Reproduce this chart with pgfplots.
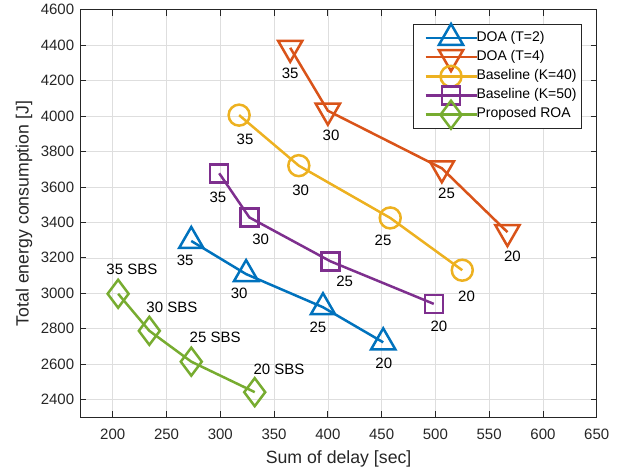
\documentclass[border=0pt]{standalone}
\usepackage{fontspec}
\setmainfont{Liberation Sans}
\usepackage{pgfplots}
\pgfplotsset{compat=1.18}
\definecolor{mblue}{rgb}{0,0.447,0.741}
\definecolor{morange}{rgb}{0.85,0.325,0.098}
\definecolor{myellow}{rgb}{0.929,0.694,0.125}
\definecolor{mpurple}{rgb}{0.494,0.184,0.556}
\definecolor{mgreen}{rgb}{0.466,0.674,0.188}
\definecolor{axgray}{rgb}{0.15,0.15,0.15}
\definecolor{gridgray}{rgb}{0.87,0.87,0.87}
\begin{document}
\begin{tikzpicture}
\begin{axis}[
  scale only axis, width=516.2pt, height=407.6pt,
  xmin=170, xmax=650, ymin=2300, ymax=4600,
  xtick={200,250,...,650}, ytick={2400,2600,...,4600},
  /pgf/number format/assume math mode=true,
  /pgf/number format/1000 sep={},
  tick label style={font=\fontsize{15}{18}\selectfont, text=axgray},
  xticklabel style={yshift=-7.7pt},
  yticklabel style={xshift=-2.8pt},
  label style={font=\fontsize{17.7}{21}\selectfont, text=axgray},
  xlabel={Sum of delay [sec]}, ylabel={Total energy consumption [J]},
  xlabel style={at={(axis description cs:0.5,-0.1011)}, anchor=center},
  ylabel style={at={(axis description cs:-0.1095,0.5)}, anchor=center},
  grid=major, major grid style={gridgray, line width=0.6pt},
  axis line style={axgray, line width=0.8pt},
  tick style={axgray, line width=0.8pt},
  major tick length=6pt, tick align=inside,
  legend style={
    at={(0.971,0.965)}, anchor=north east,
    draw=axgray, fill=white,
    font=\fontsize{14}{16}\selectfont,
    inner xsep=5pt, inner ysep=7pt,
    row sep=5.7pt, column sep=7pt,
    nodes={inner sep=0pt, fill=none, text height=10pt, text depth=3.5pt},
  },
  legend cell align=left,
  legend image code/.code={
    \path[draw=none, fill=none] (0pt,-2pt) rectangle (51pt,2pt);
    \draw[overlay, line width=2.5pt, mark=none] (7pt,0pt) -- (58pt,0pt);
    \draw[overlay, line width=2.5pt] plot[only marks] coordinates {(32.5pt,0pt)};
  },
]
\addplot[mblue, line width=2.5pt, mark=triangle, mark size=14pt, mark options={solid}]
  coordinates {(273,3295) (324,3108) (395.5,2921) (451.5,2723)};
\addlegendentry{DOA (T=2)}
\addplot[morange, line width=2.5pt, mark=triangle, mark size=14pt, mark options={solid, rotate=180}]
  coordinates {(365,4385) (400,4030) (506,3705) (567,3345)};
\addlegendentry{DOA (T=4)}
\addplot[myellow, line width=2.5pt, mark=o, mark size=10.5pt, mark options={solid}]
  coordinates {(317.5,4005) (373,3720) (458,3425) (525,3130)};
\addlegendentry{Baseline (K=40)}
\addplot[mpurple, line width=2.5pt, mark=square, mark size=9pt, mark options={solid}]
  coordinates {(299,3677) (327,3428) (402.5,3180) (498.5,2940)};
\addlegendentry{Baseline (K=50)}
\addplot[mgreen, line width=2.5pt, mark=diamond, mark size=14pt, mark options={solid}]
  coordinates {(205,2997) (234,2788) (273,2614) (332,2442)};
\addlegendentry{Proposed ROA}

\begin{scope}[every node/.style={font=\fontsize{15}{18}\selectfont, text=black}]
\node at (axis cs:267.3,3186) {35};
\node at (axis cs:317.5,3002) {30};
\node at (axis cs:390.7,2805) {25};
\node at (axis cs:452,2604) {20};
\node at (axis cs:365,4241) {35};
\node at (axis cs:403,3890) {30};
\node at (axis cs:510.4,3565) {25};
\node at (axis cs:571.7,3209) {20};
\node at (axis cs:323,3866) {35};
\node at (axis cs:374.7,3580) {30};
\node at (axis cs:451.3,3299) {25};
\node at (axis cs:529,2980) {20};
\node at (axis cs:297.8,3539) {35};
\node at (axis cs:337.5,3304) {30};
\node at (axis cs:415.6,3068) {25};
\node at (axis cs:503.3,2814) {20};
\node at (axis cs:217.8,3134) {35 SBS};
\node at (axis cs:255,2920) {30 SBS};
\node at (axis cs:295.2,2754) {25 SBS};
\node at (axis cs:354.6,2570) {20 SBS};
\end{scope}
\end{axis}
\pgfresetboundingbox
\path (current axis.south west) ++(-80.5pt,-54.7pt) rectangle ++(627pt,472pt);
\end{tikzpicture}
\end{document}
